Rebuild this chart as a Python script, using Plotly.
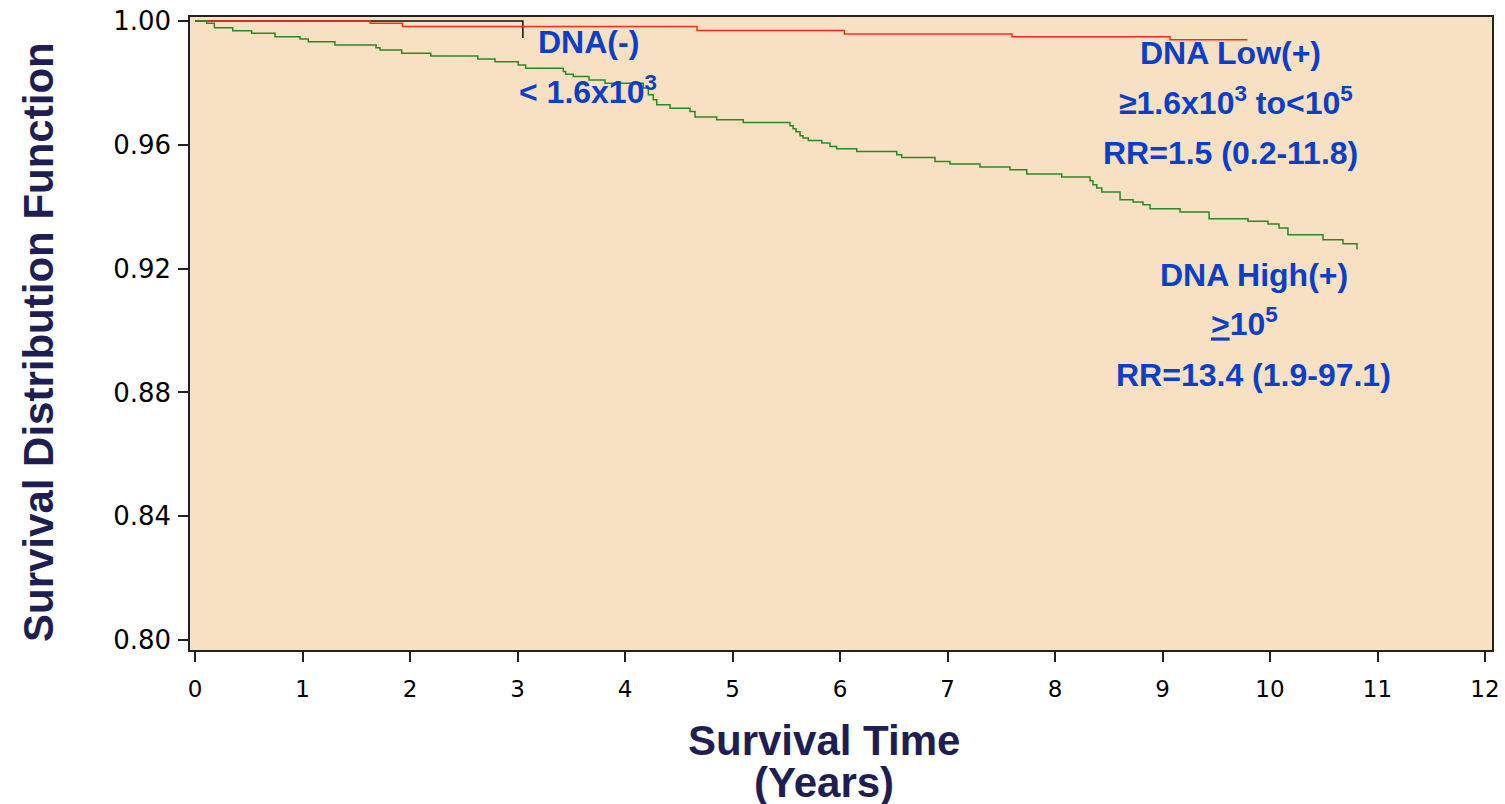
import plotly.graph_objects as go

# Kaplan-Meier step data (time in years, survival)
neg_t = [0.0, 3.05, 3.05]
neg_s = [1.0, 1.0, 0.9945]

low_t = [0.0, 1.63, 1.93, 4.67, 6.04, 7.60, 9.07, 9.79]
low_s = [1.0, 0.9993, 0.9982, 0.9969, 0.9958, 0.9949, 0.9939, 0.9939]

high_t = [0.0, 0.109, 0.180, 0.351, 0.527, 0.744, 0.977, 1.054, 1.302, 1.684, 1.721,
          1.923, 2.193, 2.630, 2.791, 3.007, 3.076, 3.426, 3.448, 3.519, 3.665,
          3.814, 4.170, 4.217, 4.263, 4.295, 4.419, 4.605, 4.651, 4.853, 5.100,
          5.535, 5.563, 5.591, 5.628, 5.656, 5.705, 5.830, 5.907, 5.969, 6.156,
          6.528, 6.574, 6.884, 7.023, 7.302, 7.581, 7.737, 8.063, 8.326, 8.353,
          8.388, 8.435, 8.605, 8.726, 8.819, 8.884, 9.163, 9.433, 9.795, 9.981,
          10.084, 10.167, 10.493, 10.679, 10.809]
high_s = [1.0, 0.99926, 0.99784, 0.99687, 0.99603, 0.99494, 0.99419, 0.99332, 0.99226,
          0.99139, 0.99065, 0.98958, 0.98871, 0.98774, 0.98687, 0.98581, 0.98474,
          0.98365, 0.98281, 0.98203, 0.98097, 0.97990, 0.97839, 0.97613, 0.97452,
          0.97290, 0.97184, 0.97074, 0.96894, 0.96806, 0.96719, 0.96613, 0.96516,
          0.96419, 0.96290, 0.96216, 0.96139, 0.96055, 0.95945, 0.95871, 0.95784,
          0.95677, 0.95590, 0.95461, 0.95377, 0.95281, 0.95194, 0.95055, 0.94958,
          0.94839, 0.94710, 0.94603, 0.94474, 0.94226, 0.94152, 0.94065, 0.93935,
          0.93829, 0.93613, 0.93526, 0.93442, 0.93313, 0.93097, 0.92935, 0.92806,
          0.92613]

x_ticks = list(range(0, 13))
y_ticks = [0.80, 0.84, 0.88, 0.92, 0.96, 1.00]

labels = [
    ("<b>DNA(-)</b>", 3.665, 0.99321),
    ("<b>< 1.6x10<sup>3</sup></b>", 3.656, 0.97771),
    ("<b>DNA Low(+)</b>", 9.637, 0.98966),
    ("<b>≥1.6x10<sup>3</sup> to<10<sup>5</sup></b>", 9.684, 0.97415),
    ("<b>RR=1.5 (0.2-11.8)</b>", 9.637, 0.95735),
    ("<b>DNA High(+)</b>", 9.851, 0.91793),
    ("<b><u>></u>10<sup>5</sup></b>", 9.767, 0.90275),
    ("<b>RR=13.4 (1.9-97.1)</b>", 9.851, 0.88562),
]

x_title_lines = ["<b>Survival Time</b>", "<b>(Years)</b>"]
y_title = "<b>Survival Distribution Function</b>"

W, H = 1505, 804
ML, MR, MT, MB = 190, 13, 17, 154
PW, PH = W - ML - MR, H - MT - MB

fig = go.Figure()
fig.add_trace(go.Scatter(x=neg_t, y=neg_s, mode="lines", line_shape="hv",
                         line=dict(color="#111111", width=1.5), showlegend=False))
fig.add_trace(go.Scatter(x=low_t, y=low_s, mode="lines", line_shape="hv",
                         line=dict(color="#FF2A1A", width=1.5), showlegend=False))
fig.add_trace(go.Scatter(x=high_t, y=high_s, mode="lines", line_shape="hv",
                         line=dict(color="#2A8A22", width=1.5), showlegend=False))

for txt, x, y in labels:
    fig.add_annotation(x=x, y=y, xref="x", yref="y", text=txt, showarrow=False,
                       font=dict(family="Liberation Sans, Arial", size=32, color="#0B3FC9"),
                       xanchor="center", yanchor="middle")

title_font = dict(family="Liberation Sans, Arial", size=42, color="#1E1E55")
# x-axis title lines (pixel centres 740 and 782 from top)
for line, ypx in zip(x_title_lines, [740, 782]):
    fig.add_annotation(x=(824 - ML) / PW, y=1 - (ypx - MT) / PH, xref="paper", yref="paper",
                       text=line, showarrow=False, font=title_font,
                       xanchor="center", yanchor="middle")
# y-axis title
fig.add_annotation(x=(38 - ML) / PW, y=1 - (342 - MT) / PH, xref="paper", yref="paper",
                   text=y_title, showarrow=False, font=title_font, textangle=-90,
                   xanchor="center", yanchor="middle")

fig.update_layout(
    width=W, height=H,
    margin=dict(l=ML, r=MR, t=MT, b=MB, autoexpand=False),
    paper_bgcolor="white",
    plot_bgcolor="#F8E0C2",
    font=dict(family="Liberation Sans, Arial", color="black"),
)
fig.update_xaxes(
    range=[-0.0465, 12.065], tickvals=x_ticks, ticktext=[str(v) for v in x_ticks],
    ticks="outside", ticklen=10, tickwidth=1.5, tickcolor="#222",
    tickfont=dict(family="DejaVu Sans", size=23, color="black"), ticklabelstandoff=8,
    showgrid=False, zeroline=False, showline=True, linecolor="#222", linewidth=1.5,
    mirror=True, automargin=False,
)
fig.update_yaxes(
    range=[0.79677, 1.00129], tickvals=y_ticks, ticktext=[f"{v:.2f}" for v in y_ticks],
    ticks="outside", ticklen=10, tickwidth=1.5, tickcolor="#222",
    tickfont=dict(family="DejaVu Sans", size=26, color="black"), ticklabelstandoff=2,
    showgrid=False, zeroline=False, showline=True, linecolor="#222", linewidth=1.5,
    mirror=True, automargin=False,
)

fig.write_html("out.html")
